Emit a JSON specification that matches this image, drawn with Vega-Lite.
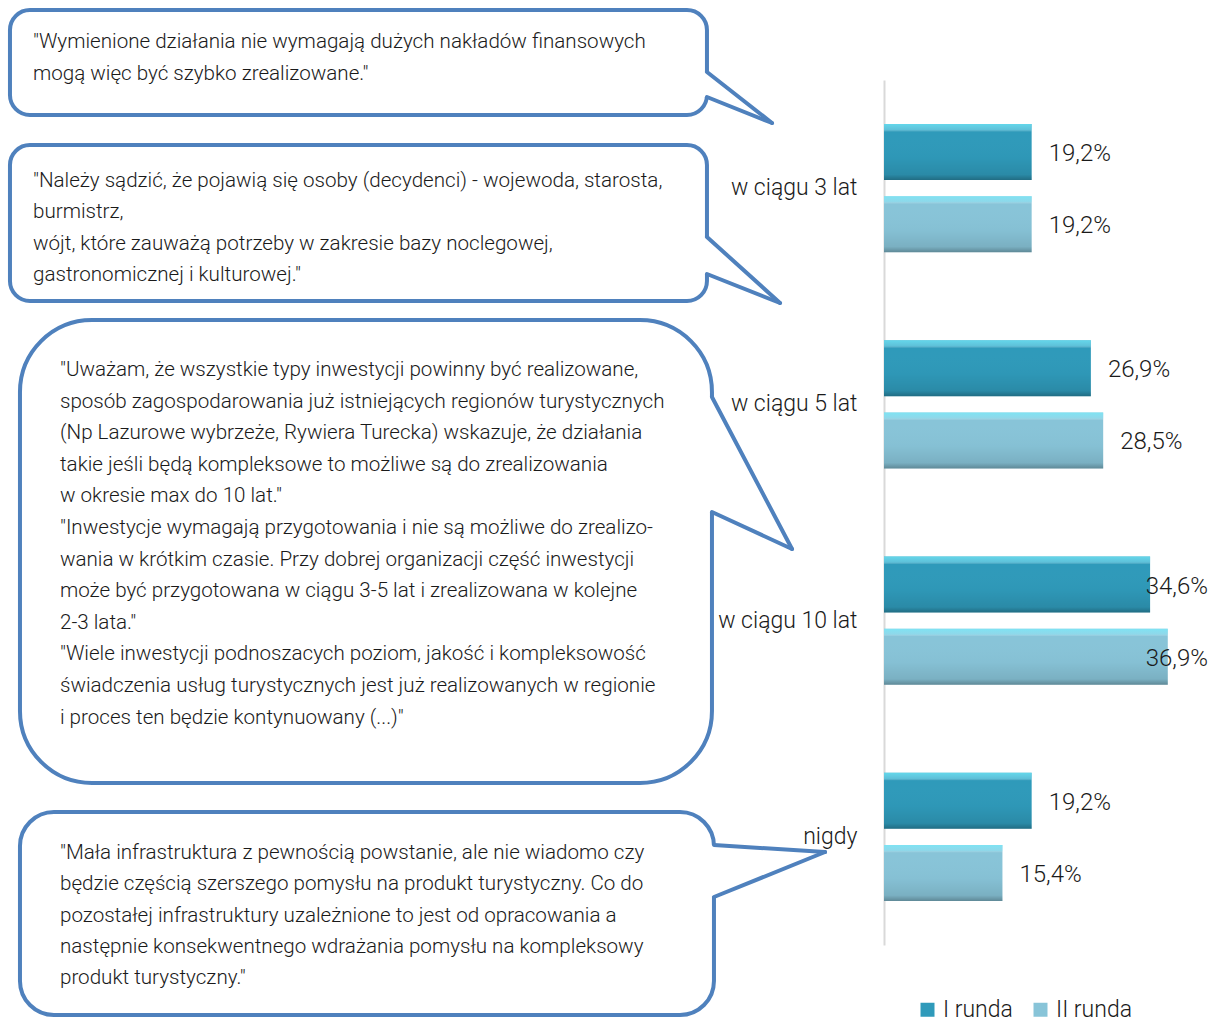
{
  "$schema": "https://vega.github.io/schema/vega-lite/v6.json",
  "width": 331,
  "height": 865,
  "autosize": {"type": "none"},
  "padding": {"left": 884, "top": 80, "right": 0, "bottom": 80},
  "background": "white",
  "config": {
    "view": {"stroke": null},
    "font": "Roboto",
    "axisX": {"disable": true},
    "axisQuantitative": {"disable": true},
    "locale": {"number": {"decimal": ",", "thousands": "\u00a0", "grouping": [3], "currency": ["", " zł"]}}
  },
  "datasets": {
    "bars": [
      {"cat": "w ciągu 3 lat", "series": "I runda", "value": 0.192},
      {"cat": "w ciągu 3 lat", "series": "II runda", "value": 0.192},
      {"cat": "w ciągu 5 lat", "series": "I runda", "value": 0.269},
      {"cat": "w ciągu 5 lat", "series": "II runda", "value": 0.285},
      {"cat": "w ciągu 10 lat", "series": "I runda", "value": 0.346},
      {"cat": "w ciągu 10 lat", "series": "II runda", "value": 0.369},
      {"cat": "nigdy", "series": "I runda", "value": 0.192},
      {"cat": "nigdy", "series": "II runda", "value": 0.154}
    ],
    "quotes": [
      {"id": 1, "quote": "\"Wymienione działania nie wymagają dużych nakładów finansowych\nmogą więc być szybko zrealizowane.\""},
      {"id": 2, "quote": "\"Należy sądzić, że pojawią się osoby (decydenci) - wojewoda, starosta,\nburmistrz,\nwójt, które zauważą potrzeby w zakresie bazy noclegowej,\ngastronomicznej i kulturowej.\""},
      {"id": 3, "quote": "\"Uważam, że wszystkie typy inwestycji powinny być realizowane,\nsposób zagospodarowania już istniejących regionów turystycznych\n(Np Lazurowe wybrzeże, Rywiera Turecka) wskazuje, że działania\ntakie jeśli będą kompleksowe to możliwe są do zrealizowania\nw okresie max do 10 lat.\"\n\"Inwestycje wymagają przygotowania i nie są możliwe do zrealizo-\nwania w krótkim czasie. Przy dobrej organizacji część inwestycji\nmoże być przygotowana w ciągu 3-5 lat i zrealizowana w kolejne\n2-3 lata.\"\n\"Wiele inwestycji podnoszacych poziom, jakość i kompleksowość\nświadczenia usług turystycznych jest już realizowanych w regionie\ni  proces ten będzie  kontynuowany (...)\""},
      {"id": 4, "quote": "\"Mała infrastruktura z pewnością powstanie, ale nie wiadomo czy\nbędzie częścią szerszego pomysłu na produkt turystyczny. Co do\npozostałej infrastruktury uzależnione to jest od opracowania a\nnastępnie konsekwentnego wdrażania pomysłu na kompleksowy\nprodukt turystyczny.\""}
    ]
  },
  "layer": [
    {
      "data": {"name": "bars"},
      "encoding": {
        "y": {
          "field": "cat", "type": "nominal",
          "sort": ["w ciągu 3 lat", "w ciągu 5 lat", "w ciągu 10 lat", "nigdy"],
          "scale": {"paddingInner": 0, "paddingOuter": 0},
          "axis": {"title": null, "ticks": false, "domainColor": "#d9d9d9", "domainWidth": 2, "labelFontSize": 23, "labelFont": "Roboto", "labelFontWeight": 300, "labelColor": "#1a1a1a", "labelPadding": 27, "labelLimit": 300}
        },
        "yOffset": {
          "field": "series", "type": "nominal",
          "sort": ["I runda", "II runda"],
          "scale": {"paddingInner": 0.222, "paddingOuter": 0.611}
        },
        "x": {"field": "value", "type": "quantitative", "scale": {"domain": [0, 0.4304], "nice": false, "zero": true}, "axis": null}
      },
      "layer": [
        {
          "mark": {"type": "bar"},
          "encoding": {
            "color": {
              "field": "series", "type": "nominal",
              "scale": {"domain": ["I runda", "II runda"], "range": ["#2f9aba", "#88c4d8"]},
              "legend": {"orient": "none", "legendX": 32, "legendY": 918, "direction": "horizontal", "title": null, "symbolType": "square", "symbolSize": 196, "symbolStrokeWidth": 0, "labelFontSize": 23, "labelFont": "Roboto", "labelFontWeight": 300, "labelColor": "#1a1a1a", "labelOffset": 4, "columnPadding": 16}
            }
          }
        },
        {
          "mark": {
            "type": "bar",
            "fill": {"gradient": "linear", "x1": 0, "y1": 0, "x2": 0, "y2": 1, "stops": [
              {"offset": 0, "color": "rgba(120,240,255,0.7)"},
              {"offset": 0.1, "color": "rgba(150,240,255,0.45)"},
              {"offset": 0.14, "color": "rgba(255,255,255,0)"},
              {"offset": 0.6, "color": "rgba(0,0,0,0.02)"},
              {"offset": 0.9, "color": "rgba(0,0,0,0.1)"},
              {"offset": 1, "color": "rgba(0,0,0,0.3)"}
            ]}
          }
        },
        {
          "transform": [{"filter": "datum.value < 0.3"}],
          "mark": {"type": "text", "align": "left", "baseline": "middle", "dx": 17, "dy": 2, "fontSize": 24, "font": "Roboto", "fontWeight": 300, "color": "#1a1a1a"},
          "encoding": {"text": {"field": "value", "type": "quantitative", "format": ".1%"}}
        },
        {
          "transform": [{"filter": "datum.value >= 0.3"}],
          "mark": {"type": "text", "align": "right", "baseline": "middle", "dy": 2, "fontSize": 24, "font": "Roboto", "fontWeight": 300, "color": "#1a1a1a"},
          "encoding": {
            "x": {"datum": 0.4213, "type": "quantitative"},
            "text": {"field": "value", "type": "quantitative", "format": ".1%"}
          }
        }
      ]
    },
    {
      "data": {"name": "quotes"},
      "layer": [
        {
          "transform": [{"filter": "datum.id == 1"}],
          "layer": [
            {"mark": {"type": "rect", "fill": "white", "stroke": "#4f81bd", "strokeWidth": 4, "cornerRadius": 20},
             "encoding": {"x": {"datum": -1.1365, "type": "quantitative"}, "x2": {"datum": -0.2302}, "y": {"datum": -70, "type": "quantitative", "scale": {"domain": [0, 865], "reverse": true, "zero": false, "nice": false}, "axis": null}, "y2": {"datum": 35}}},
            {"mark": {"type": "rule", "stroke": "white", "strokeWidth": 7},
             "encoding": {"x": {"datum": -0.2302, "type": "quantitative"}, "y": {"datum": -8, "type": "quantitative"}, "y2": {"datum": 17}}},
            {"mark": {"type": "rule", "stroke": "#4f81bd", "strokeWidth": 4, "strokeCap": "round"},
             "encoding": {"x": {"datum": -0.2302, "type": "quantitative"}, "y": {"datum": -8, "type": "quantitative"}, "x2": {"datum": -0.1456}, "y2": {"datum": 43}}},
            {"mark": {"type": "rule", "stroke": "#4f81bd", "strokeWidth": 4, "strokeCap": "round"},
             "encoding": {"x": {"datum": -0.1456, "type": "quantitative"}, "y": {"datum": 43, "type": "quantitative"}, "x2": {"datum": -0.2302}, "y2": {"datum": 17}}},
            {"mark": {"type": "text", "align": "left", "baseline": "alphabetic", "lineBreak": "\n", "lineHeight": 31.6, "fontSize": 20.6, "font": "Roboto", "fontWeight": 300, "color": "#1a1a1a"},
             "encoding": {"x": {"datum": -1.1066, "type": "quantitative"}, "y": {"datum": -32, "type": "quantitative"}, "text": {"field": "quote"}}}
          ]
        },
        {
          "transform": [{"filter": "datum.id == 2"}],
          "layer": [
            {"mark": {"type": "rect", "fill": "white", "stroke": "#4f81bd", "strokeWidth": 4, "cornerRadius": 20},
             "encoding": {"x": {"datum": -1.1365, "type": "quantitative"}, "x2": {"datum": -0.2302}, "y": {"datum": 65, "type": "quantitative"}, "y2": {"datum": 221}}},
            {"mark": {"type": "rule", "stroke": "white", "strokeWidth": 7},
             "encoding": {"x": {"datum": -0.2302, "type": "quantitative"}, "y": {"datum": 157, "type": "quantitative"}, "y2": {"datum": 194}}},
            {"mark": {"type": "rule", "stroke": "#4f81bd", "strokeWidth": 4, "strokeCap": "round"},
             "encoding": {"x": {"datum": -0.2302, "type": "quantitative"}, "y": {"datum": 157, "type": "quantitative"}, "x2": {"datum": -0.1352}, "y2": {"datum": 223}}},
            {"mark": {"type": "rule", "stroke": "#4f81bd", "strokeWidth": 4, "strokeCap": "round"},
             "encoding": {"x": {"datum": -0.1352, "type": "quantitative"}, "y": {"datum": 223, "type": "quantitative"}, "x2": {"datum": -0.2302}, "y2": {"datum": 194}}},
            {"mark": {"type": "text", "align": "left", "baseline": "alphabetic", "lineBreak": "\n", "lineHeight": 31.4, "fontSize": 20.6, "font": "Roboto", "fontWeight": 300, "color": "#1a1a1a"},
             "encoding": {"x": {"datum": -1.1066, "type": "quantitative"}, "y": {"datum": 107, "type": "quantitative"}, "text": {"field": "quote"}}}
          ]
        },
        {
          "transform": [{"filter": "datum.id == 3"}],
          "layer": [
            {"mark": {"type": "rect", "fill": "white", "stroke": "#4f81bd", "strokeWidth": 4, "cornerRadius": 72},
             "encoding": {"x": {"datum": -1.1235, "type": "quantitative"}, "x2": {"datum": -0.2237}, "y": {"datum": 240, "type": "quantitative"}, "y2": {"datum": 703}}},
            {"mark": {"type": "rule", "stroke": "white", "strokeWidth": 7},
             "encoding": {"x": {"datum": -0.2237, "type": "quantitative"}, "y": {"datum": 317, "type": "quantitative"}, "y2": {"datum": 432}}},
            {"mark": {"type": "rule", "stroke": "#4f81bd", "strokeWidth": 4, "strokeCap": "round"},
             "encoding": {"x": {"datum": -0.2237, "type": "quantitative"}, "y": {"datum": 317, "type": "quantitative"}, "x2": {"datum": -0.1196}, "y2": {"datum": 469}}},
            {"mark": {"type": "rule", "stroke": "#4f81bd", "strokeWidth": 4, "strokeCap": "round"},
             "encoding": {"x": {"datum": -0.1196, "type": "quantitative"}, "y": {"datum": 469, "type": "quantitative"}, "x2": {"datum": -0.2237}, "y2": {"datum": 432}}},
            {"mark": {"type": "text", "align": "left", "baseline": "alphabetic", "lineBreak": "\n", "lineHeight": 31.6, "fontSize": 20.6, "font": "Roboto", "fontWeight": 300, "color": "#1a1a1a"},
             "encoding": {"x": {"datum": -1.0715, "type": "quantitative"}, "y": {"datum": 296, "type": "quantitative"}, "text": {"field": "quote"}}}
          ]
        },
        {
          "transform": [{"filter": "datum.id == 4"}],
          "layer": [
            {"mark": {"type": "rect", "fill": "white", "stroke": "#4f81bd", "strokeWidth": 4, "cornerRadius": 34},
             "encoding": {"x": {"datum": -1.1235, "type": "quantitative"}, "x2": {"datum": -0.2211}, "y": {"datum": 732, "type": "quantitative"}, "y2": {"datum": 935}}},
            {"mark": {"type": "rule", "stroke": "white", "strokeWidth": 7},
             "encoding": {"x": {"datum": -0.2211, "type": "quantitative"}, "y": {"datum": 765, "type": "quantitative"}, "y2": {"datum": 817}}},
            {"mark": {"type": "rule", "stroke": "#4f81bd", "strokeWidth": 4, "strokeCap": "round"},
             "encoding": {"x": {"datum": -0.2211, "type": "quantitative"}, "y": {"datum": 765, "type": "quantitative"}, "x2": {"datum": -0.0767}, "y2": {"datum": 772}}},
            {"mark": {"type": "rule", "stroke": "#4f81bd", "strokeWidth": 4, "strokeCap": "round"},
             "encoding": {"x": {"datum": -0.0767, "type": "quantitative"}, "y": {"datum": 772, "type": "quantitative"}, "x2": {"datum": -0.2211}, "y2": {"datum": 817}}},
            {"mark": {"type": "text", "align": "left", "baseline": "alphabetic", "lineBreak": "\n", "lineHeight": 31.3, "fontSize": 20.6, "font": "Roboto", "fontWeight": 300, "color": "#1a1a1a"},
             "encoding": {"x": {"datum": -1.0715, "type": "quantitative"}, "y": {"datum": 779, "type": "quantitative"}, "text": {"field": "quote"}}}
          ]
        }
      ]
    }
  ],
  "resolve": {"scale": {"y": "independent"}, "axis": {"y": "independent"}}
}
